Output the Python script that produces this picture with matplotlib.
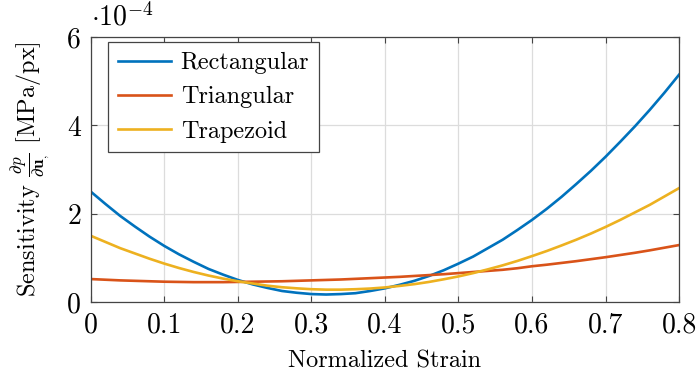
import numpy as np
import matplotlib
matplotlib.use("Agg")
from matplotlib import pyplot as plt

plt.rcParams['font.family'] = 'serif'
plt.rcParams['font.serif'] = ['cmr10']
plt.rcParams['mathtext.fontset'] = 'cm'
plt.rcParams['axes.formatter.use_mathtext'] = True

# normalized strain samples
strain = [0.00, 0.02, 0.04, 0.06, 0.08, 0.10, 0.12, 0.14, 0.16, 0.18,
          0.20, 0.22, 0.24, 0.26, 0.28, 0.30, 0.32, 0.34, 0.36, 0.38,
          0.40, 0.42, 0.44, 0.46, 0.48, 0.50, 0.52, 0.54, 0.56, 0.58,
          0.60, 0.62, 0.64, 0.66, 0.68, 0.70, 0.72, 0.74, 0.76, 0.78, 0.80]

# sensitivity in units of 1e-4 MPa/px
rectangular = [2.50, 2.22, 1.95, 1.71, 1.48, 1.27, 1.08, 0.91, 0.75, 0.62,
               0.50, 0.40, 0.32, 0.25, 0.21, 0.18, 0.17, 0.18, 0.20, 0.25,
               0.31, 0.39, 0.48, 0.59, 0.72, 0.87, 1.03, 1.22, 1.41, 1.63,
               1.86, 2.11, 2.38, 2.67, 2.97, 3.29, 3.63, 3.98, 4.35, 4.74, 5.15]
triangular = [0.52, 0.505, 0.49, 0.48, 0.47, 0.46, 0.455, 0.45, 0.45, 0.45,
              0.455, 0.46, 0.465, 0.47, 0.48, 0.49, 0.50, 0.51, 0.525, 0.54,
              0.555, 0.57, 0.59, 0.61, 0.63, 0.655, 0.68, 0.705, 0.73, 0.765,
              0.81, 0.845, 0.885, 0.925, 0.97, 1.015, 1.065, 1.115, 1.17, 1.23, 1.29]
trapezoid = [1.50, 1.36, 1.22, 1.10, 0.98, 0.87, 0.77, 0.68, 0.60, 0.53,
             0.47, 0.42, 0.37, 0.335, 0.31, 0.29, 0.28, 0.28, 0.29, 0.305,
             0.33, 0.365, 0.405, 0.455, 0.515, 0.58, 0.655, 0.74, 0.83, 0.93,
             1.04, 1.155, 1.28, 1.41, 1.55, 1.70, 1.86, 2.03, 2.20, 2.39, 2.58]

xticks = [0, 0.1, 0.2, 0.3, 0.4, 0.5, 0.6, 0.7, 0.8]
xticklabels = ['0', '0.1', '0.2', '0.3', '0.4', '0.5', '0.6', '0.7', '0.8']
yticks = [0, 2, 4, 6]

fig = plt.figure(figsize=(6.98, 3.78), dpi=100)
ax = fig.add_axes([0.130, 0.201, 0.843, 0.701])

ax.plot(strain, rectangular, color='#0072BD', lw=1.9, label='Rectangular')
ax.plot(strain, triangular, color='#D95319', lw=1.9, label='Triangular')
ax.plot(strain, trapezoid, color='#EDB120', lw=1.9, label='Trapezoid')

ax.set_xlim(0, 0.8)
ax.set_ylim(0, 6)
ax.set_xticks(xticks)
ax.set_xticklabels(xticklabels)
ax.set_yticks(yticks)
ax.set_yticklabels([str(t) for t in yticks])
ax.tick_params(direction='in', length=4, width=0.8, color='#444444',
               labelsize=20, top=True, right=True, pad=7)
ax.grid(True, color='#dcdcdc', lw=0.9)
ax.set_axisbelow(True)
for s in ax.spines.values():
    s.set_color('#444444')
    s.set_linewidth(0.9)

ax.set_xlabel('Normalized Strain', fontsize=17.5, labelpad=9)
ax.set_ylabel(r'Sensitivity $\frac{\partial p}{\partial \mathbf{u}_{,}}$ [MPa/px]',
              fontsize=17.5, labelpad=10)
ax.text(0.0, 1.02, r'$\cdot 10^{-4}$', transform=ax.transAxes, fontsize=20,
        ha='left', va='bottom')

leg = ax.legend(loc='upper left', fontsize=17.5, fancybox=False, framealpha=1,
                edgecolor='#444444', handlelength=2.2, handleheight=0.7,
                borderpad=0.4, labelspacing=0.5, handletextpad=0.4,
                borderaxespad=0, bbox_to_anchor=(0.029, 0.98))
leg.get_frame().set_linewidth(0.9)

fig.savefig('out.png', dpi=100)
